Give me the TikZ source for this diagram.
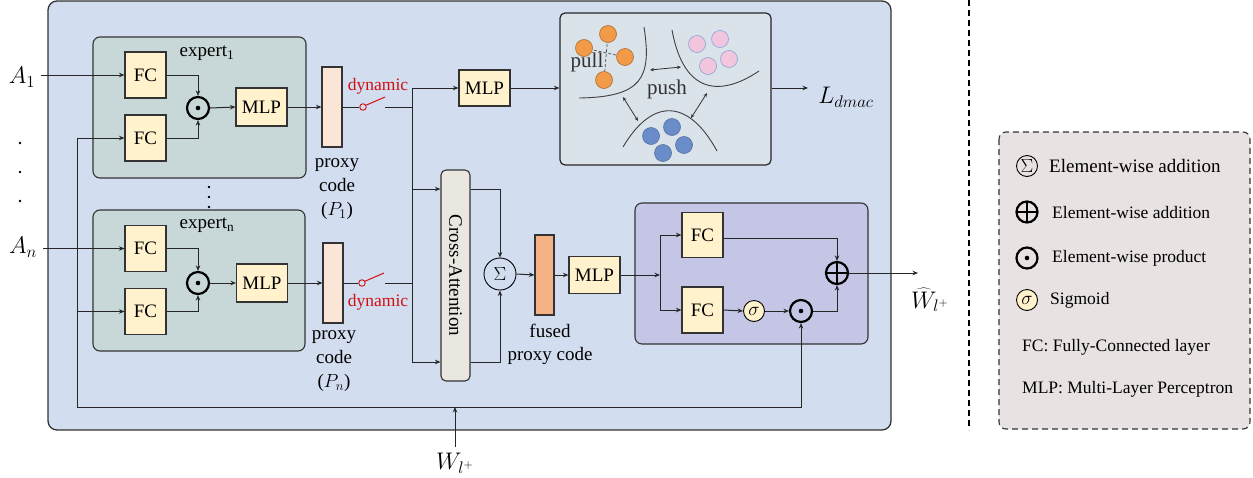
\RequirePackage{fix-cm}
\documentclass[tikz,border=0pt]{standalone}
\usepackage{fontspec}
\setmainfont{Liberation Serif}
\usetikzlibrary{arrows.meta,calc}
\definecolor{mainbg}{HTML}{D2DEEF}
\definecolor{expbg}{HTML}{C8D8D8}
\definecolor{fcfill}{HTML}{FFF2CC}
\definecolor{proxyfill}{HTML}{FBE5D6}
\definecolor{fusedfill}{HTML}{F4B183}
\definecolor{cafill}{HTML}{EAE6E0}
\definecolor{clusbg}{HTML}{DAE2EA}
\definecolor{gatebg}{HTML}{C5C6E6}
\definecolor{legbg}{HTML}{E8E2E2}
\definecolor{dynred}{HTML}{D01010}
\definecolor{orng}{HTML}{F29A48}
\definecolor{pnk}{HTML}{F2C6DE}
\definecolor{blu}{HTML}{6A8CC8}
\newcommand\fsA{\fontsize{19}{23}\selectfont}
\newcommand\fsB{\fontsize{19}{24}\selectfont}
\newcommand\fsD{\fontsize{17.5}{20}\selectfont}
\newcommand\fsL{\fontsize{17.5}{20}\selectfont}
\newcommand\fsM{\fontsize{24}{26}\selectfont}
\newcommand\fsP{\fontsize{21}{24}\selectfont}
\tikzset{
  conn/.style={line width=1pt, draw=black!85},
  arr/.style={conn, -{Stealth[length=5.5pt,width=4.5pt]}},
  dbl/.style={line width=0.8pt, draw=black!80, {Stealth[length=4pt,width=3.5pt]}-{Stealth[length=4pt,width=3.5pt]}},
  blk/.style={draw=black!80, line width=1.1pt, fill=fcfill, inner sep=0pt, font=\fsA},
  container/.style={draw=black!80, line width=1.1pt, rounded corners=7pt},
  odotc/.style={circle, draw, line width=2.2pt, minimum size=22, inner sep=0pt,
     path picture={\fill (path picture bounding box.center) circle (2.3pt);}},
  oplusc/.style={circle, draw, line width=2.2pt, minimum size=22, inner sep=0pt,
     path picture={\draw[line width=1.8pt] (path picture bounding box.north) -- (path picture bounding box.south)
        (path picture bounding box.west) -- (path picture bounding box.east);}},
  sumc/.style={circle, draw, line width=0.9pt, inner sep=0pt, font=\fsA},
  sigc/.style={circle, draw, line width=0.9pt, fill=fcfill, minimum size=21, inner sep=0pt, font=\fsA},
  swc/.style={circle, draw=dynred, line width=0.9pt, minimum size=6.5, inner sep=0pt, fill=mainbg},
  txt/.style={inner sep=0pt, font=\fsA, align=center},
  dot/.style={circle, fill=black, minimum size=2.6, inner sep=0pt},
  ball/.style={circle, line width=0.6pt, minimum size=17, inner sep=0pt},
  curve/.style={line width=0.9pt, draw=black!75},
}
\begin{document}
\begin{tikzpicture}[x=1pt,y=-1pt]
\useasboundingbox (0,0) rectangle (1253,477);
% containers
\draw[container, rounded corners=9pt, fill=mainbg, line width=1.3pt] (48,1) rectangle (891,430);
\draw[container, fill=expbg] (93,37) rectangle (306,178);
\draw[container, fill=expbg] (93,210) rectangle (305,351);
\draw[container, fill=gatebg] (635,203) rectangle (868,344);
\draw[line width=1.1pt, dash pattern=on 6pt off 4pt] (969,0) -- (969,430);
\draw[container, fill=legbg, dash pattern=on 6pt off 4pt, line width=1.1pt] (999,132) rectangle (1250,429);

% experts
\node[txt] (e1) at (207,53) {expert\textsubscript{1}};
\node[txt] (en) at (207,225) {expert\textsubscript{n}};
\node[blk, minimum width=41, minimum height=46] (FC1a) at (145.5,75) {FC};
\node[blk, minimum width=41, minimum height=46] (FC1b) at (145.5,138) {FC};
\node[odotc] (od1) at (198,108) {};
\node[blk, minimum width=51, minimum height=38] (MLP1) at (261.5,107) {MLP};
\node[blk, minimum width=41, minimum height=46] (FCna) at (145.5,248.5) {FC};
\node[blk, minimum width=41, minimum height=46] (FCnb) at (145.5,311.5) {FC};
\node[odotc] (odn) at (198,283) {};
\node[blk, minimum width=51, minimum height=38] (MLPn) at (262,283) {MLP};
\draw[arr] (FC1a.east) -| (od1.north);
\draw[arr] (FC1b.east) -| (od1.south);
\draw[arr] (od1.east) -- (MLP1.west);
\draw[arr] (FCna.east) -| (odn.north);
\draw[arr] (FCnb.east) -| (odn.south);
\draw[arr] (odn.east) -- (MLPn.west);
% dots
\node[dot] (vd1) at (209,187) {};
\node[dot] (vd2) at (209,197) {};
\node[dot] (vd3) at (209,207) {};
\node[dot] (ld1) at (20,143) {};
\node[dot] (ld2) at (20,172) {};
\node[dot] (ld3) at (20,201) {};

% inputs
\node[inner sep=0pt, font=\fsM] (A1) at (22,77) {$A_1$};
\node[inner sep=0pt, font=\fsM] (An) at (23,247) {$A_n$};
\draw[arr] (A1.east |- FC1a.west) ++(6,0) -- (FC1a.west);
\draw[arr] (An.east |- FCna.west) ++(6,0) -- (FCna.west);
\coordinate (lb) at (77,407);
\node[inner sep=0pt, font=\fsM] (Wl) at (455,463) {$W_{l^+}$};
\coordinate (wj) at (455,407);

% proxy codes
\node[draw=black!80, line width=1.1pt, fill=proxyfill, minimum width=20, minimum height=80, inner sep=0pt] (P1) at (332,107) {};
\node[draw=black!80, line width=1.1pt, fill=proxyfill, minimum width=20, minimum height=80, inner sep=0pt] (Pn) at (333,283) {};
\draw[arr] (MLP1.east) -- (P1.west);
\draw[arr] (MLPn.east) -- (Pn.west);
\node[txt, font=\fsB] (P1t) at (337,189) {proxy\\code\\($P_1$)};
\node[txt, font=\fsB] (Pnt) at (334,361) {proxy\\code\\($P_n$)};

% switches
\node[swc] (sw1) at (363,107) {};
\node[swc] (swn) at (362,283) {};
\draw[conn] (P1.east) -- (sw1.west);
\draw[conn] (Pn.east) -- (swn.west);
\draw[line width=1pt, dynred] (sw1.30) -- (385,97);
\draw[line width=1pt, dynred] (swn.30) -- (384,273);
\node[inner sep=0pt, font=\fsD, text=dynred] (dy1) at (378,86) {dynamic};
\node[inner sep=0pt, font=\fsD, text=dynred] (dyn) at (378,302) {dynamic};
\coordinate (bt) at (412,88);
\coordinate (bb) at (412,362);
\coordinate (b1) at (412,189);
\coordinate (s1o) at (385,107);
\coordinate (sno) at (385,283);
\draw[conn] (s1o) -- (s1o -| bt);
\draw[conn] (sno) -- (sno -| bt);
\draw[conn] (bt) -- (bb);

% top MLP and cluster
\node[blk, minimum width=51, minimum height=36] (MLPt) at (484.5,88) {MLP};
\draw[arr] (bt) -- (MLPt.west);
\node[draw=black!85, line width=1.2pt, fill=clusbg, rounded corners=5pt, minimum width=211, minimum height=152, inner sep=0pt] (clus) at (665.5,89) {};
\draw[arr] (MLPt.east) -- (clus.west |- MLPt);
\coordinate (lout) at (808,88);
\draw[arr] (clus.east |- MLPt) -- (lout);
\node[inner sep=0pt, font=\fsM] (Ld) at (846,97) {$L_{dmac}$};

% cluster contents
\draw[curve] (644,27) .. controls (652,78) and (642,97) .. (579,98);
\draw[curve] (672,30) .. controls (684,96) and (722,96) .. (759,71);
\draw[curve] (623,147) .. controls (652,98) and (688,98) .. (717,151);
\draw[line width=0.7pt, densely dashed, black!70] (608,34) -- (604,80);
\draw[line width=0.7pt, densely dashed, black!70] (584,48) -- (625,57);
\foreach \n/\p in {o1/{(608,34)}, o2/{(584,48)}, o3/{(625,57)}, o4/{(604,80)}}
  \node[ball, draw=orng!70!black, fill=orng] (\n) at \p {};
\foreach \n/\p in {k1/{(697,44)}, k2/{(720,39)}, k3/{(729,59)}, k4/{(708,66)}}
  \node[ball, draw=blu!80, fill=pnk] (\n) at \p {};
\foreach \n/\p in {u1/{(651,136)}, u2/{(672,127)}, u3/{(684,145)}, u4/{(663,153)}}
  \node[ball, draw=blu!80!black, fill=blu] (\n) at \p {};
\node[inner sep=0pt, font=\fsP, text=black!80] (pull) at (587,62) {pull};
\node[inner sep=0pt, font=\fsP, text=black!80] (push) at (667,89) {push};
\coordinate (da1) at (650,70); \coordinate (da2) at (681,67);
\coordinate (db1) at (623,97); \coordinate (db2) at (638,121);
\coordinate (dc1) at (707,93); \coordinate (dc2) at (691,118);
\draw[dbl] (da1) -- (da2);
\draw[dbl] (db1) -- (db2);
\draw[dbl] (dc1) -- (dc2);

% cross attention
\node[draw=black!80, line width=1.1pt, fill=cafill, rounded corners=5pt, minimum width=29, minimum height=211, inner sep=0pt] (CA) at (455.5,275.5) {\fsA\rotatebox{-90}{Cross-Attention}};
\draw[arr] (b1) -- (b1 -| CA.west);
\draw[arr] (bb) -- (bb -| CA.west);
\node[sumc, minimum size=32] (sig) at (500,274) {$\Sigma$};
\draw[arr] (b1 -| CA.east) -| (sig.north);
\draw[arr] (bb -| CA.east) -| (sig.south);
\node[draw=black!80, line width=1.1pt, fill=fusedfill, minimum width=19, minimum height=80, inner sep=0pt] (fused) at (544.5,275) {};
\draw[arr] (sig.east) -- (fused.west);
\node[blk, minimum width=51, minimum height=37] (MLP2) at (594.5,275) {MLP};
\draw[arr] (fused.east) -- (MLP2.west);
\node[txt, font=\fsA] (fpt) at (550,344) {fused\\proxy code};

% gate
\coordinate (gb) at (660,275);
\draw[arr] (MLP2.east) -- (gb);
\node[blk, minimum width=41, minimum height=45] (GF1) at (702.5,235) {FC};
\node[blk, minimum width=41, minimum height=46] (GF2) at (702.5,310) {FC};
\draw[arr] (gb) |- (GF1.west);
\draw[arr] (gb) |- (GF2.west);
\node[sigc] (gsig) at (754,311) {$\sigma$};
\node[odotc] (godot) at (801,311) {};
\node[oplusc] (gplus) at (837,273) {};
\draw[arr] (GF2.east) -- (gsig.west);
\draw[arr] (gsig.east) -- (godot.west);
\draw[arr] ([yshift=-3pt]GF1.east) -| (gplus.north);
\draw[arr] (godot.east) -| (gplus.south);
\coordinate (gout) at (918,273);
\draw[arr] (gplus.east) -- (gout);
\node[inner sep=0pt, font=\fsM] (Wh) at (930,300) {$\widehat{W}_{l^+}$};

% shared weight bus
\draw[arr] (lb) |- (FC1b.west);
\draw[arr] (lb) |- (FCnb.west);
\draw[arr] (lb) -| (godot.south);
\draw[arr] (Wl.north) ++(0,-6) -- (wj);

% legend
\node[sumc, minimum size=21] (lg1) at (1027,166) {$\Sigma$};
\node[anchor=west, inner sep=0pt, font=\fontsize{19}{21}\selectfont] (lt1) at (1049,166) {Element-wise addition};
\node[oplusc, minimum size=21] (lg2) at (1027,212) {};
\node[anchor=west, inner sep=0pt, font=\fsL] (lt2) at (1052,213) {Element-wise addition};
\node[odotc, minimum size=21] (lg3) at (1027,258) {};
\node[anchor=west, inner sep=0pt, font=\fsL] (lt3) at (1052,258) {Element-wise product};
\node[sigc] (lg4) at (1027,300) {$\sigma$};
\node[anchor=west, inner sep=0pt, font=\fsL] (lt4) at (1050,300) {Sigmoid};
\node[anchor=west, inner sep=0pt, font=\fsL] (lt5) at (1022,347) {FC: Fully-Connected layer};
\node[anchor=west, inner sep=0pt, font=\fsL] (lt6) at (1022,389) {MLP: Multi-Layer Perceptron};
\end{tikzpicture}
\end{document}
